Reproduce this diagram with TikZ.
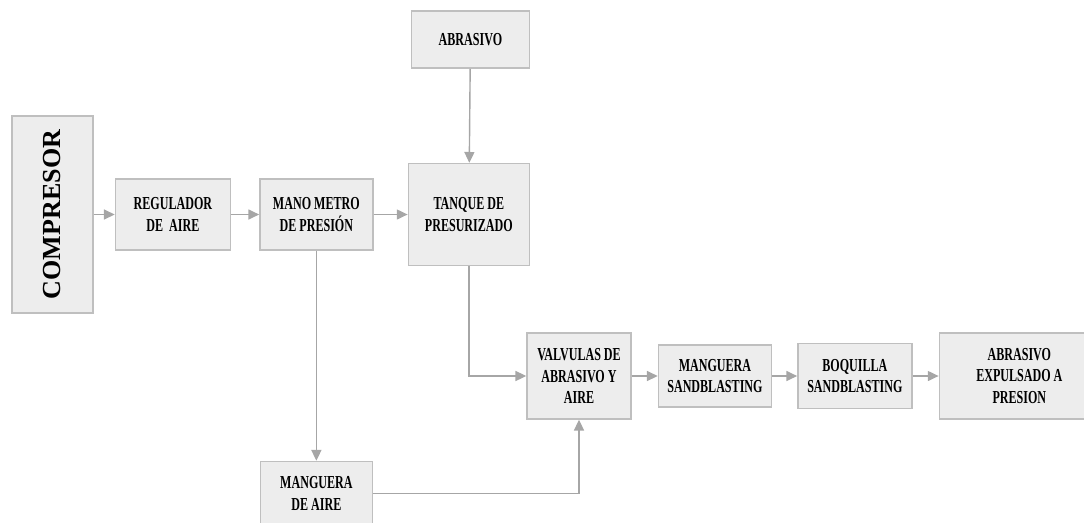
\documentclass[tikz,border=0pt]{standalone}
\usepackage{fontspec}
\usepackage{tikz}
\usetikzlibrary{positioning,arrows.meta}
\newfontfamily\boxfont{Liberation Serif}[FakeStretch=0.66]
\newfontfamily\compfont{Liberation Serif}
\definecolor{c_fill}{HTML}{EDEDED}
\definecolor{c_line}{HTML}{BFBFBF}
\definecolor{c_arrow}{HTML}{A6A6A6}
\tikzset{c-box/.style={rectangle, draw=c_line, fill=c_fill, line width=1pt, inner sep=0pt, align=center, font=\boxfont\bfseries\fontsize{13}{15}\selectfont},
arrow/.style={line width=1pt, draw=c_arrow, -{Triangle[length=0.27cm,width=0.25cm]}}}

\begin{document}
\begin{tikzpicture}[x=0.025cm, y=0.025cm]
\useasboundingbox (0,0) rectangle (1084,-522);
\node (comp) [c-box, rotate=90, minimum width=4.925cm, minimum height=2.025cm, font=\compfont\bfseries\fontsize{18.5}{20}\selectfont] at (52.5,-214.5) {COMPRESOR};
\node (reg) [c-box, right=0.525cm of comp.south, minimum width=2.875cm, minimum height=1.775cm] {REGULADOR\\
DE~ AIRE};
\node (mano) [c-box, right=0.7cm of reg, minimum width=2.825cm, minimum height=1.775cm] {MANO METRO\\
DE PRESIÓN};
\node (tanq) [c-box, right=0.85cm of mano, minimum width=3.025cm, minimum height=2.55cm] {TANQUE DE\\
PRESURIZADO};
\node (abr) [c-box, above=2.35cm of tanq, xshift=0.04cm, minimum width=2.95cm, minimum height=1.425cm] {ABRASIVO};
\node (mair) [c-box, below=5.25cm of mano, minimum width=2.8cm, minimum height=1.6cm] {MANGUERA\\
DE AIRE};
\node (valv) [c-box, minimum width=2.6cm, minimum height=2.15cm] at (579,-376) {VALVULAS DE\\
ABRASIVO Y\\
AIRE};
\node (mangs) [c-box, right=0.65cm of valv, minimum width=2.825cm, minimum height=1.55cm] {MANGUERA\\
SANDBLASTING};
\node (boq) [c-box, right=0.625cm of mangs, minimum width=2.85cm, minimum height=1.625cm] {BOQUILLA\\
SANDBLASTING};
\node (expul) [c-box, right=0.65cm of boq, minimum width=4cm, minimum height=2.15cm] {ABRASIVO\\
EXPULSADO A\\
PRESION};
\draw [arrow] (comp) -- (reg);
\draw [arrow] (reg) -- (mano);
\draw [arrow] (mano) -- (tanq);
\draw [arrow] (abr) -- (tanq);
\draw [arrow] (mano) -- (mair);
\draw [arrow] (tanq.south) |- (valv.west);
\draw [arrow] (mair.east) -| (valv.south);
\draw [arrow] (valv) -- (mangs);
\draw [arrow] (mangs) -- (boq);
\draw [arrow] (boq) -- (expul);
\end{tikzpicture}
\end{document}
